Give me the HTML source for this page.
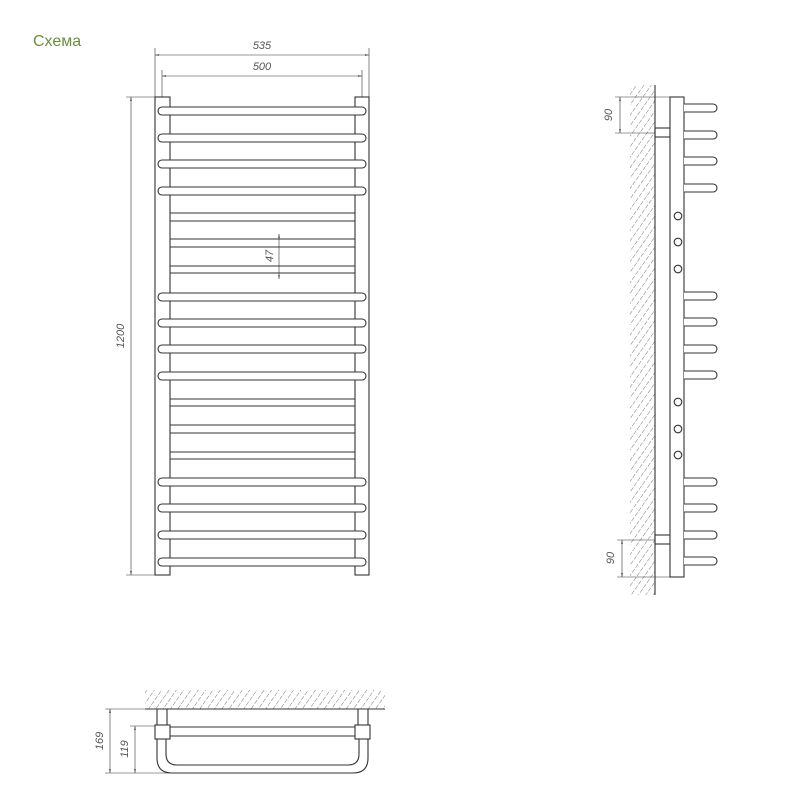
<!DOCTYPE html>
<html><head><meta charset="utf-8"><style>
html,body{margin:0;padding:0;background:#fff;width:800px;height:800px;overflow:hidden}
svg{display:block}
text{font-family:"Liberation Sans",sans-serif;font-style:italic;fill:#555;font-size:11px}
</style></head><body>
<svg width="800" height="800" viewBox="0 0 800 800" xmlns="http://www.w3.org/2000/svg">
<defs>
<pattern id="h" width="6" height="6" patternUnits="userSpaceOnUse" patternTransform="rotate(35)">
<line x1="0" y1="0" x2="0" y2="4.5" stroke="#777" stroke-width="1"/>
</pattern>
<marker id="a" viewBox="0 0 10 10" refX="10" refY="5" markerWidth="7" markerHeight="7" orient="auto-start-reverse"><path d="M0,3 L10,5 L0,7z" fill="#333"/></marker>
</defs>
<text x="33" y="46" style="font-style:normal;fill:#6b8e3e;font-size:16px">Схема</text>

<g stroke="#333" fill="none" stroke-width="1.1">
<line x1="155" y1="48" x2="155" y2="97" stroke-width="0.6"/>
<line x1="369" y1="48" x2="369" y2="97" stroke-width="0.6"/>
<line x1="162" y1="70" x2="162" y2="97" stroke-width="0.6"/>
<line x1="362" y1="70" x2="362" y2="97" stroke-width="0.6"/>
<line x1="155" y1="55" x2="369" y2="55" stroke-width="0.6" marker-start="url(#a)" marker-end="url(#a)"/>
<line x1="162" y1="76" x2="362" y2="76" stroke-width="0.6" marker-start="url(#a)" marker-end="url(#a)"/>
<line x1="126" y1="97" x2="155" y2="97" stroke-width="0.6"/>
<line x1="126" y1="575" x2="155" y2="575" stroke-width="0.6"/>
<line x1="131" y1="97" x2="131" y2="575" stroke-width="0.6" marker-start="url(#a)" marker-end="url(#a)"/>
<line x1="279" y1="234" x2="279" y2="279" stroke-width="0.6" marker-start="url(#a)" marker-end="url(#a)"/>
<rect x="155" y="97" width="15" height="478" fill="#fff"/>
<rect x="355" y="97" width="14" height="478" fill="#fff"/>
<g>
<line x1="170" y1="213" x2="355" y2="213"/><line x1="170" y1="221" x2="355" y2="221"/>
<line x1="170" y1="239" x2="355" y2="239"/><line x1="170" y1="247" x2="355" y2="247"/>
<line x1="170" y1="266" x2="355" y2="266"/><line x1="170" y1="273" x2="355" y2="273"/>
<line x1="170" y1="399" x2="355" y2="399"/><line x1="170" y1="406" x2="355" y2="406"/>
<line x1="170" y1="425" x2="355" y2="425"/><line x1="170" y1="433" x2="355" y2="433"/>
<line x1="170" y1="452" x2="355" y2="452"/><line x1="170" y1="459" x2="355" y2="459"/>
</g>
<g fill="#fff">
<rect x="158" y="107" width="208" height="8" rx="4"/>
<rect x="158" y="134" width="208" height="8" rx="4"/>
<rect x="158" y="160" width="208" height="8" rx="4"/>
<rect x="158" y="187" width="208" height="8" rx="4"/>
<rect x="158" y="293" width="208" height="8" rx="4"/>
<rect x="158" y="319" width="208" height="8" rx="4"/>
<rect x="158" y="345" width="208" height="8" rx="4"/>
<rect x="158" y="372" width="208" height="8" rx="4"/>
<rect x="158" y="478" width="208" height="8" rx="4"/>
<rect x="158" y="504" width="208" height="8" rx="4"/>
<rect x="158" y="531" width="208" height="8" rx="4"/>
<rect x="158" y="558" width="208" height="8" rx="4"/>
</g>

<rect x="630" y="85" width="25" height="510" fill="url(#h)" stroke="none"/>
<line x1="655" y1="85" x2="655" y2="595"/>
<line x1="615" y1="97" x2="684" y2="97" stroke-width="0.6"/>
<line x1="615" y1="133" x2="655" y2="133" stroke-width="0.6"/>
<line x1="620" y1="97" x2="620" y2="133" stroke-width="0.6" marker-start="url(#a)" marker-end="url(#a)"/>
<line x1="617" y1="540" x2="655" y2="540" stroke-width="0.6"/>
<line x1="617" y1="577" x2="670" y2="577" stroke-width="0.6"/>
<line x1="622" y1="540" x2="622" y2="577" stroke-width="0.6" marker-start="url(#a)" marker-end="url(#a)"/>
<rect x="655" y="128" width="15" height="9"/>
<rect x="655" y="535" width="15" height="9"/>
<rect x="670" y="97" width="14" height="480" fill="#fff"/>
<g fill="#fff">
<path d="M684,104 H713 A4,4 0 0 1 713,112 H684"/>
<path d="M684,131 H713 A4,4 0 0 1 713,139 H684"/>
<path d="M684,157 H713 A4,4 0 0 1 713,165 H684"/>
<path d="M684,184 H713 A4,4 0 0 1 713,192 H684"/>
<path d="M684,292 H713 A4,4 0 0 1 713,300 H684"/>
<path d="M684,318 H713 A4,4 0 0 1 713,326 H684"/>
<path d="M684,345 H713 A4,4 0 0 1 713,353 H684"/>
<path d="M684,371 H713 A4,4 0 0 1 713,379 H684"/>
<path d="M684,478 H713 A4,4 0 0 1 713,486 H684"/>
<path d="M684,504 H713 A4,4 0 0 1 713,512 H684"/>
<path d="M684,531 H713 A4,4 0 0 1 713,539 H684"/>
<path d="M684,557 H713 A4,4 0 0 1 713,565 H684"/>
<circle cx="678" cy="216" r="3.8"/><circle cx="678" cy="242" r="3.8"/><circle cx="678" cy="269" r="3.8"/>
<circle cx="678" cy="402" r="3.8"/><circle cx="678" cy="429" r="3.8"/><circle cx="678" cy="455" r="3.8"/>
</g>

<rect x="145" y="690" width="240" height="19" fill="url(#h)" stroke="none"/>
<line x1="145" y1="709" x2="385" y2="709"/>
<line x1="105" y1="709" x2="150" y2="709" stroke-width="0.6"/>
<line x1="105" y1="773" x2="170" y2="773" stroke-width="0.6"/>
<line x1="130" y1="726" x2="155" y2="726" stroke-width="0.6"/>
<line x1="110" y1="709" x2="110" y2="773" stroke-width="0.6" marker-start="url(#a)" marker-end="url(#a)"/>
<line x1="135" y1="726" x2="135" y2="773" stroke-width="0.6" marker-start="url(#a)" marker-end="url(#a)"/>
<line x1="157" y1="709" x2="157" y2="725"/><line x1="167" y1="709" x2="167" y2="725"/>
<line x1="358" y1="709" x2="358" y2="725"/><line x1="368" y1="709" x2="368" y2="725"/>
<path d="M157,739 V758 Q157,773 172,773 H353 Q368,773 368,758 V739"/>
<path d="M166,739 V754 Q166,765 177,765 H348 Q359,765 359,754 V739"/>
<line x1="170" y1="727" x2="355" y2="727"/><line x1="170" y1="736" x2="355" y2="736"/>
<rect x="155" y="725" width="15" height="14" fill="#fff"/>
<rect x="355" y="725" width="15" height="14" fill="#fff"/>
</g>

<text x="262" y="49" text-anchor="middle">535</text>
<text x="262" y="70" text-anchor="middle">500</text>
<text transform="translate(124,336) rotate(-90)" text-anchor="middle">1200</text>
<text transform="translate(273,256) rotate(-90)" text-anchor="middle">47</text>
<text transform="translate(612,115) rotate(-90)" text-anchor="middle">90</text>
<text transform="translate(614,558) rotate(-90)" text-anchor="middle">90</text>
<text transform="translate(103,741) rotate(-90)" text-anchor="middle">169</text>
<text transform="translate(128,749) rotate(-90)" text-anchor="middle">119</text>
</svg>
</body></html>
